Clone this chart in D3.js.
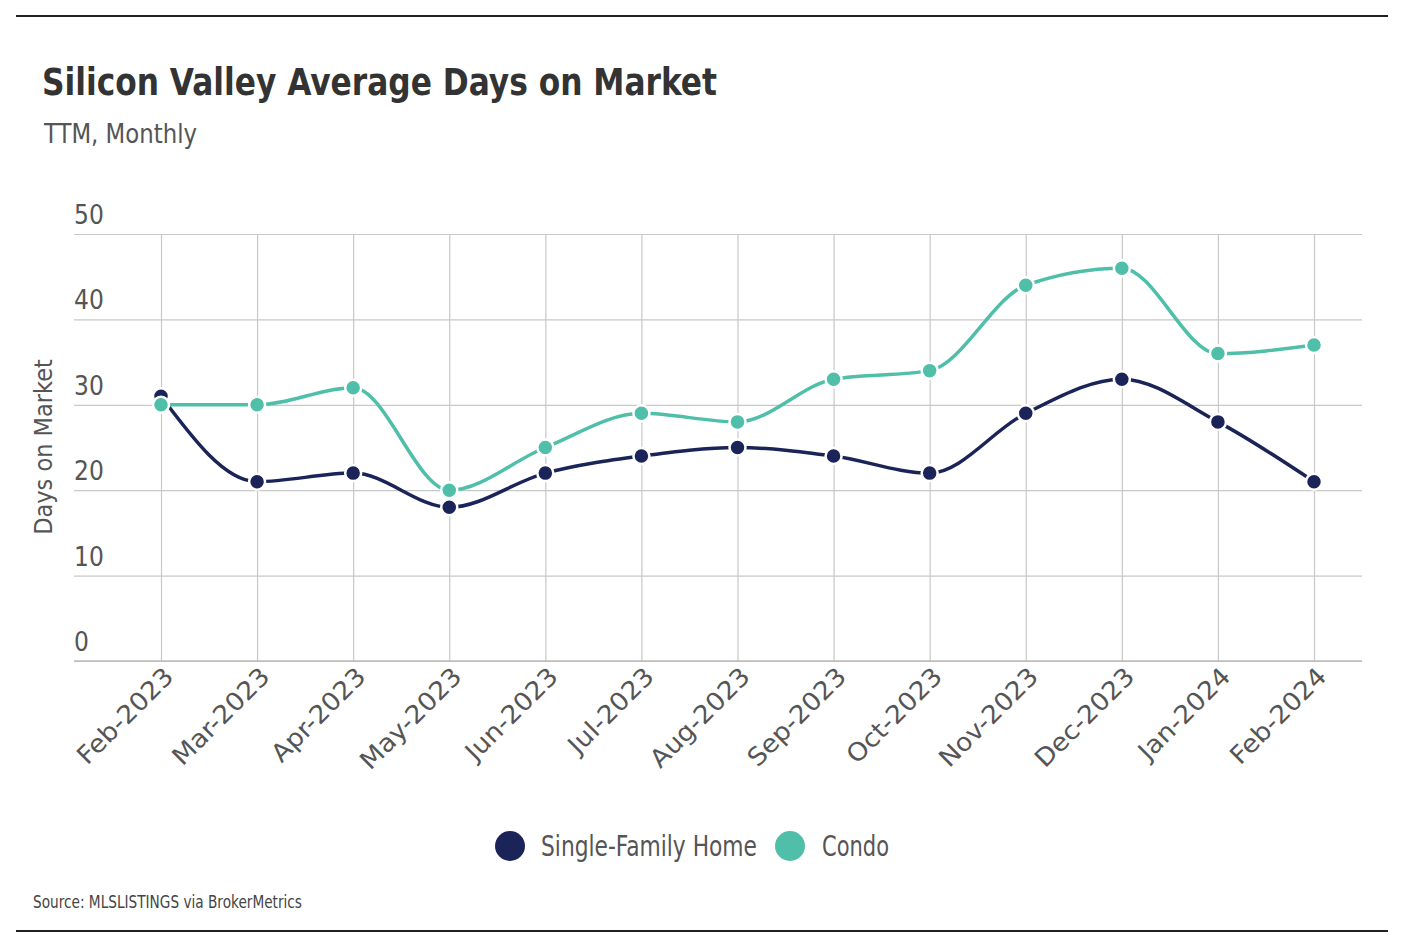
<!DOCTYPE html>
<html>
<head>
<meta charset="utf-8">
<script src="https://cdn.jsdelivr.net/npm/d3@7"></script>
<style>
  body { margin: 0; background: #fff; }
  text { font-family: "DejaVu Sans Condensed", "DejaVu Sans", sans-serif; font-stretch: condensed; fill: #444; }
  .title { font-size: 37px; font-weight: bold; fill: #333; }
  .subtitle { font-size: 26px; fill: #555; }
  .tick-label { font-size: 26px; fill: #555; }
  .x-label { font-size: 25px; fill: #555; }
  .axis-title { font-size: 25px; fill: #555; }
  .legend-text { font-size: 29px; fill: #555; }
  .source { font-size: 18px; fill: #444; }
</style>
</head>
<body>
<div id="chart"></div>
<script>
const months = ["Feb-2023", "Mar-2023", "Apr-2023", "May-2023", "Jun-2023", "Jul-2023", "Aug-2023",
  "Sep-2023", "Oct-2023", "Nov-2023", "Dec-2023", "Jan-2024", "Feb-2024"];
const singleFamily = [31, 21, 22, 18, 22, 24, 25, 24, 22, 29, 33, 28, 21];
const condo = [30, 30, 32, 20, 25, 29, 28, 33, 34, 44, 46, 36, 37];
const yTicks = [0, 10, 20, 30, 40, 50];

const W = 1418, H = 938;
const plot = {left: 74, right: 1362, top: 234, bottom: 661};

const svg = d3.select("#chart")
  .append("svg")
  .attr("width", W)
  .attr("height", H);

// squeeze a text to a given width (the original font is narrower)
function fit(sel, w) {
  sel.attr("textLength", w).attr("lengthAdjust", "spacingAndGlyphs");
}

// top & bottom rules
svg.append("line").attr("x1", 16).attr("x2", 1388).attr("y1", 16).attr("y2", 16)
  .attr("stroke", "#222").attr("stroke-width", 2);
svg.append("line").attr("x1", 16).attr("x2", 1388).attr("y1", 931).attr("y2", 931)
  .attr("stroke", "#222").attr("stroke-width", 2);

svg.append("text").attr("class", "title").attr("x", 42).attr("y", 95)
  .text("Silicon Valley Average Days on Market")
  .call(fit, 675);
svg.append("text").attr("class", "subtitle").attr("x", 44).attr("y", 143)
  .text("TTM, Monthly")
  .call(fit, 153);

const x = d3.scalePoint()
  .domain(months)
  .range([161, 1314]);

const y = d3.scaleLinear()
  .domain([0, 50])
  .range([plot.bottom, plot.top]);

// horizontal grid
const gy = svg.append("g")
  .attr("transform", `translate(${plot.left},0)`)
  .call(d3.axisRight(y)
    .tickValues(yTicks)
    .tickSize(plot.right - plot.left)
    .tickFormat(""));
gy.select(".domain").remove();
gy.selectAll(".tick line").attr("stroke", "#c8c8c8").attr("stroke-width", 1.2);

// y tick labels sit above their grid line
svg.append("g")
  .selectAll("text")
  .data(yTicks)
  .join("text")
    .attr("class", "tick-label")
    .attr("x", plot.left)
    .attr("y", d => y(d) - 10)
    .text(d => d);

// vertical grid
const gx = svg.append("g")
  .attr("transform", `translate(0,${plot.bottom})`)
  .call(d3.axisTop(x)
    .tickSize(plot.bottom - plot.top)
    .tickFormat(""));
gx.select(".domain").remove();
gx.selectAll(".tick line").attr("stroke", "#c8c8c8").attr("stroke-width", 1.2);

// baseline
svg.append("line")
  .attr("x1", plot.left).attr("x2", plot.right)
  .attr("y1", y(0)).attr("y2", y(0))
  .attr("stroke", "#bbb").attr("stroke-width", 1.5);

// x labels, narrowed by the same factor so relative widths stay natural
const xLabels = svg.append("g")
  .selectAll("text")
  .data(months)
  .join("text")
    .attr("class", "x-label")
    .attr("text-anchor", "end")
    .attr("transform", d => `translate(${x(d) + 14},${plot.bottom + 17}) rotate(-45)`)
    .text(d => d);
const k = 124 / xLabels.node().getComputedTextLength();
xLabels.each(function() {
  d3.select(this).call(fit, this.getComputedTextLength() * k);
});

svg.append("text")
  .attr("class", "axis-title")
  .attr("text-anchor", "middle")
  .attr("transform", `translate(52,447) rotate(-90)`)
  .text("Days on Market");

const line = d3.line()
  .x((d, i) => x(months[i]))
  .y(d => y(d))
  .curve(d3.curveMonotoneX);

const series = [
  {name: "Single-Family Home", values: singleFamily, color: "#1b2459"},
  {name: "Condo", values: condo, color: "#4fbfa9"}
];

series.forEach(s => {
  svg.append("path")
    .datum(s.values)
    .attr("fill", "none")
    .attr("stroke", s.color)
    .attr("stroke-width", 3.5)
    .attr("d", line);

  svg.append("g")
    .selectAll("circle")
    .data(s.values)
    .join("circle")
      .attr("cx", (d, i) => x(months[i]))
      .attr("cy", d => y(d))
      .attr("r", 8)
      .attr("fill", s.color)
      .attr("stroke", "#fff")
      .attr("stroke-width", 2.5);
});

// legend
const legendPos = [{cx: 510, tx: 541, w: 216}, {cx: 790, tx: 822, w: 67}];
series.forEach((s, i) => {
  svg.append("circle")
    .attr("cx", legendPos[i].cx).attr("cy", 846).attr("r", 15)
    .attr("fill", s.color);
  svg.append("text")
    .attr("class", "legend-text")
    .attr("x", legendPos[i].tx).attr("y", 856)
    .text(s.name)
    .call(fit, legendPos[i].w);
});

svg.append("text").attr("class", "source").attr("x", 33).attr("y", 908)
  .text("Source:  MLSLISTINGS via BrokerMetrics")
  .call(fit, 269);
</script>
</body>
</html>
